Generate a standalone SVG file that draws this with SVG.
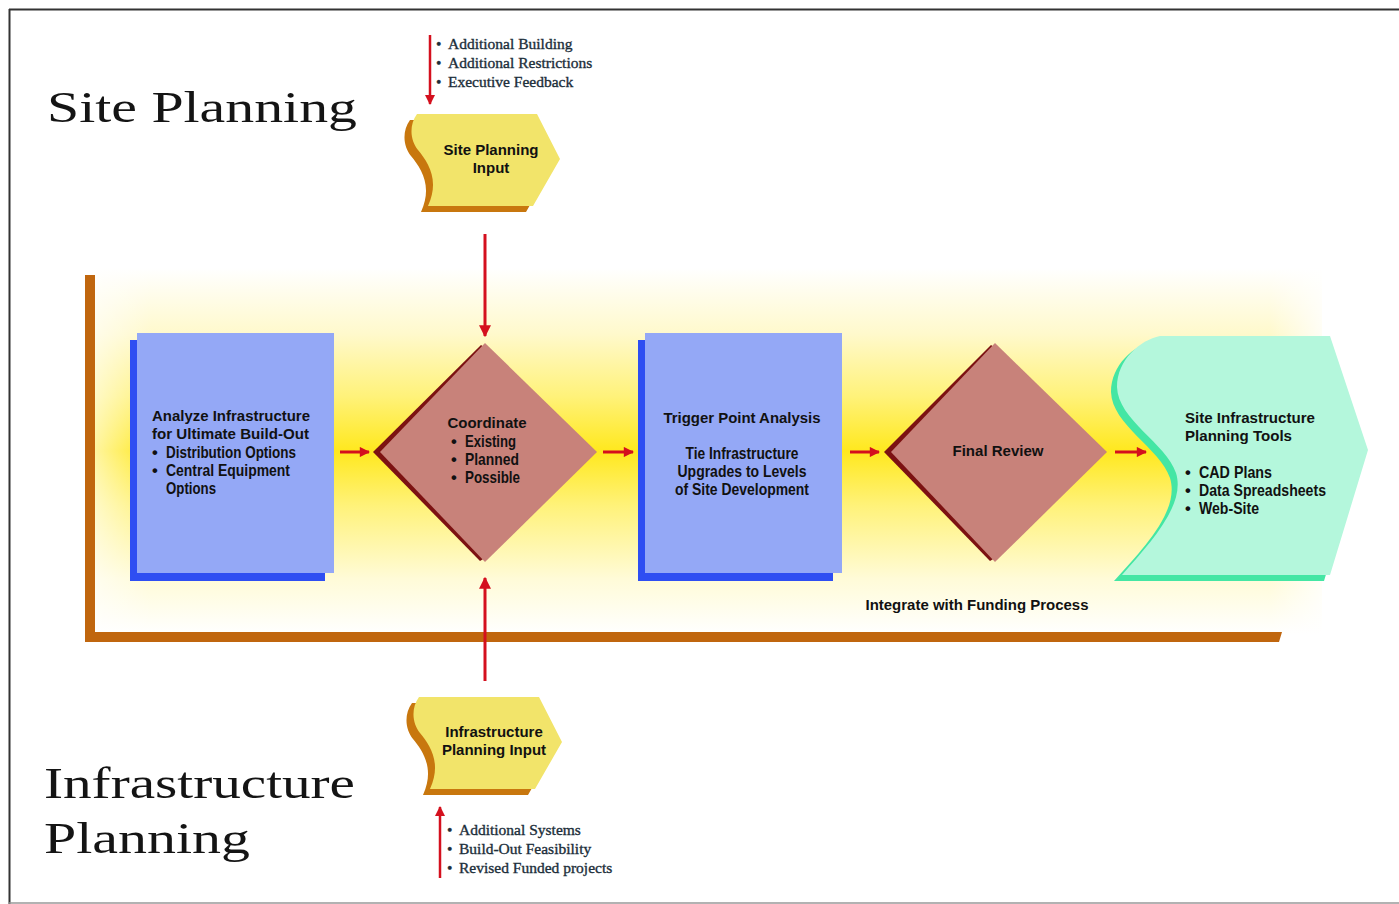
<svg xmlns="http://www.w3.org/2000/svg" width="1399" height="904" viewBox="0 0 1399 904">
<defs>
<linearGradient id="band" x1="0" y1="0" x2="0" y2="1">
<stop offset="0" stop-color="#ffffff"/>
<stop offset="0.18" stop-color="#fff9cc"/>
<stop offset="0.35" stop-color="#fff27a"/>
<stop offset="0.5" stop-color="#ffe81e"/>
<stop offset="0.65" stop-color="#fff27a"/>
<stop offset="0.85" stop-color="#fffbd8"/>
<stop offset="1" stop-color="#ffffff"/>
</linearGradient>
<linearGradient id="fadeR" x1="0" y1="0" x2="1" y2="0">
<stop offset="0" stop-color="#ffffff" stop-opacity="0"/>
<stop offset="1" stop-color="#ffffff" stop-opacity="0.8"/>
</linearGradient>
<linearGradient id="fadeL" x1="0" y1="0" x2="1" y2="0">
<stop offset="0" stop-color="#ffffff" stop-opacity="0.6"/>
<stop offset="1" stop-color="#ffffff" stop-opacity="0"/>
</linearGradient>
<marker id="ah" viewBox="0 0 10 10" refX="9" refY="5" markerWidth="4" markerHeight="4" orient="auto" markerUnits="strokeWidth">
<path d="M0,0 L10,5 L0,10 Z" fill="#d4101e"/>
</marker>
<marker id="ahs" viewBox="0 0 10 10" refX="9" refY="5" markerWidth="4" markerHeight="3.4" orient="auto" markerUnits="strokeWidth">
<path d="M0,0 L10,5 L0,10 Z" fill="#d4101e"/>
</marker>
<path id="inshape" d="M417,114 C409,125 410,140 418,150 C428,162 440,180 428,206 L533,206 L560,159 L537,114 Z"/>
</defs>
<style>
.title{font-family:"Liberation Serif","Times New Roman",serif;font-size:45px;fill:#141414}
.note{font-family:"Liberation Serif","Times New Roman",serif;font-size:15.5px;fill:#1c2e3a;stroke:#1c2e3a;stroke-width:0.35}
.lb{font-family:"Liberation Sans",Arial,sans-serif;font-weight:bold;font-size:15px;fill:#111}
.nb{font-family:"Liberation Sans",Arial,sans-serif;font-weight:bold;font-size:16.5px;fill:#111}
.c{text-anchor:middle}
.blue{fill:#94a8f6}
.blueS{fill:#2e4ef2}
.dia{fill:#c8827a}
.diaS{fill:#7c1212}
.yel{fill:#f2e46a}
.yelS{fill:#c8770e}
.conn{stroke:#d4101e;fill:none}
</style>
<rect width="1399" height="904" fill="#ffffff"/>
<line x1="9.5" y1="9" x2="9.5" y2="904" stroke="#333" stroke-width="2"/>
<line x1="9" y1="9.5" x2="1399" y2="9.5" stroke="#333" stroke-width="2"/>
<line x1="9" y1="903" x2="1399" y2="903" stroke="#999" stroke-width="1.5"/>

<g id="band-bg">
<rect x="92" y="268" width="1230" height="366" fill="url(#band)"/>
<rect x="1270" y="268" width="52" height="366" fill="url(#fadeR)"/>
<rect x="92" y="268" width="60" height="366" fill="url(#fadeL)"/>
<path d="M85,275 L95,275 L95,632 L1282,632 L1279,642 L85,642 Z" fill="#c0660e"/>
</g>

<g id="title-site"><text class="title" x="47" y="122" textLength="310" lengthAdjust="spacingAndGlyphs">Site Planning</text></g>
<g id="title-infra">
<text class="title" x="44" y="798" textLength="311" lengthAdjust="spacingAndGlyphs">Infrastructure</text>
<text class="title" x="44" y="853" textLength="206" lengthAdjust="spacingAndGlyphs">Planning</text>
</g>

<g id="site-input">
<use href="#inshape" class="yelS" transform="translate(-7,6)"/>
<use href="#inshape" class="yel"/>
<text class="lb c" x="491" y="155">Site Planning</text>
<text class="lb c" x="491" y="173">Input</text>
</g>

<g id="site-notes">
<text class="note" x="436" y="49">•</text><text class="note" x="448" y="49">Additional Building</text>
<text class="note" x="436" y="68">•</text><text class="note" x="448" y="68">Additional Restrictions</text>
<text class="note" x="436" y="87">•</text><text class="note" x="448" y="87">Executive Feedback</text>
</g>

<g id="infra-input">
<use href="#inshape" class="yelS" transform="translate(-5,589)"/>
<use href="#inshape" class="yel" transform="translate(2,583)"/>
<text class="lb c" x="494" y="737">Infrastructure</text>
<text class="lb c" x="494" y="755">Planning Input</text>
</g>

<g id="infra-notes">
<text class="note" x="447" y="835">•</text><text class="note" x="459" y="835">Additional Systems</text>
<text class="note" x="447" y="854">•</text><text class="note" x="459" y="854">Build-Out Feasibility</text>
<text class="note" x="447" y="873">•</text><text class="note" x="459" y="873">Revised Funded projects</text>
</g>

<g id="analyze">
<rect class="blueS" x="130" y="340" width="195" height="241"/>
<rect class="blue" x="137" y="333" width="197" height="240"/>
<text class="lb" x="152" y="421" textLength="158" lengthAdjust="spacingAndGlyphs">Analyze Infrastructure</text>
<text class="lb" x="152" y="439" textLength="157" lengthAdjust="spacingAndGlyphs">for Ultimate Build-Out</text>
<text class="nb" x="152" y="458">•</text><text class="nb" x="166" y="458" textLength="130" lengthAdjust="spacingAndGlyphs">Distribution Options</text>
<text class="nb" x="152" y="476">•</text><text class="nb" x="166" y="476" textLength="124" lengthAdjust="spacingAndGlyphs">Central Equipment</text>
<text class="nb" x="166" y="494" textLength="50" lengthAdjust="spacingAndGlyphs">Options</text>
</g>

<g id="coordinate">
<path class="diaS" d="M481,345 L373,452 L480,561 L488,556 L488,350 Z"/>
<path class="dia" d="M485,343 L597,452 L485,562 L380,452 Z"/>
<text class="lb c" x="487" y="428">Coordinate</text>
<text class="nb" x="451" y="447">•</text><text class="nb" x="465" y="447" textLength="51" lengthAdjust="spacingAndGlyphs">Existing</text>
<text class="nb" x="451" y="465">•</text><text class="nb" x="465" y="465" textLength="54" lengthAdjust="spacingAndGlyphs">Planned</text>
<text class="nb" x="451" y="483">•</text><text class="nb" x="465" y="483" textLength="55" lengthAdjust="spacingAndGlyphs">Possible</text>
</g>

<g id="trigger">
<rect class="blueS" x="638" y="340" width="195" height="241"/>
<rect class="blue" x="645" y="333" width="197" height="240"/>
<text class="lb c" x="742" y="423" textLength="157" lengthAdjust="spacingAndGlyphs">Trigger Point Analysis</text>
<text class="nb c" x="742" y="459" textLength="113" lengthAdjust="spacingAndGlyphs">Tie Infrastructure</text>
<text class="nb c" x="742" y="477" textLength="129" lengthAdjust="spacingAndGlyphs">Upgrades to Levels</text>
<text class="nb c" x="742" y="495" textLength="134" lengthAdjust="spacingAndGlyphs">of Site Development</text>
</g>

<g id="final-review">
<path class="diaS" d="M991,345 L884,452 L990,561 L998,556 L998,350 Z"/>
<path class="dia" d="M995,343 L1107,452 L995,562 L891,452 Z"/>
<text class="lb c" x="998" y="456" textLength="91" lengthAdjust="spacingAndGlyphs">Final Review</text>
</g>

<g id="tools">
<path fill="#44e6a4" d="M1154,341 L1324,341 L1362,455 L1324,581 L1114,581 C1144,548 1180,510 1170,478 C1160,448 1112,425 1111,392 C1111,365 1134,345 1154,341 Z"/>
<path fill="#b4f7dc" d="M1160,336 L1330,336 L1368,450 L1330,575 L1122,575 C1150,543 1186,505 1176,473 C1166,443 1118,420 1117,387 C1117,360 1140,340 1160,336 Z"/>
<text class="lb" x="1185" y="423" textLength="130" lengthAdjust="spacingAndGlyphs">Site Infrastructure</text>
<text class="lb" x="1185" y="441" textLength="107" lengthAdjust="spacingAndGlyphs">Planning Tools</text>
<text class="nb" x="1185" y="478">•</text><text class="nb" x="1199" y="478" textLength="73" lengthAdjust="spacingAndGlyphs">CAD Plans</text>
<text class="nb" x="1185" y="496">•</text><text class="nb" x="1199" y="496" textLength="127" lengthAdjust="spacingAndGlyphs">Data Spreadsheets</text>
<text class="nb" x="1185" y="514">•</text><text class="nb" x="1199" y="514" textLength="60" lengthAdjust="spacingAndGlyphs">Web-Site</text>
</g>

<g id="funding"><text class="lb c" x="977" y="610" textLength="223" lengthAdjust="spacingAndGlyphs">Integrate with Funding Process</text></g>

<g id="connectors">
<line class="conn" x1="430" y1="35" x2="430" y2="104" stroke-width="2.5" marker-end="url(#ah)"/>
<line class="conn" x1="440" y1="878" x2="440" y2="807" stroke-width="2.5" marker-end="url(#ah)"/>
<line class="conn" x1="485" y1="234" x2="485" y2="336" stroke-width="3" marker-end="url(#ah)"/>
<line class="conn" x1="485" y1="681" x2="485" y2="578" stroke-width="3" marker-end="url(#ah)"/>
<line class="conn" x1="340" y1="452" x2="369" y2="452" stroke-width="3" marker-end="url(#ahs)"/>
<line class="conn" x1="603" y1="452" x2="633" y2="452" stroke-width="3" marker-end="url(#ahs)"/>
<line class="conn" x1="850" y1="452" x2="879" y2="452" stroke-width="3" marker-end="url(#ahs)"/>
<line class="conn" x1="1115" y1="452" x2="1146" y2="452" stroke-width="3" marker-end="url(#ahs)"/>
</g>
</svg>
